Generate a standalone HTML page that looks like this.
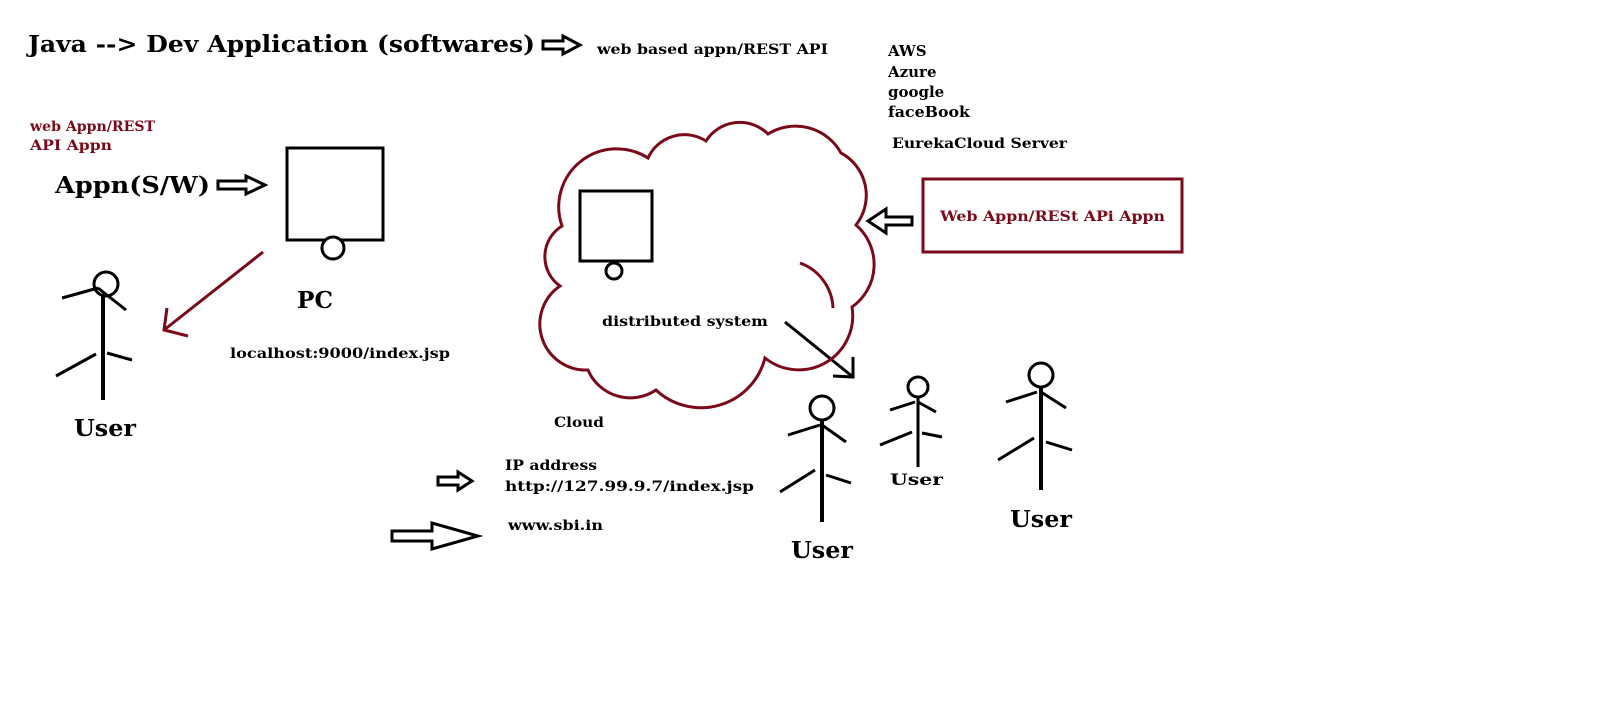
<!DOCTYPE html>
<html><head><meta charset="utf-8"><style>html,body{margin:0;padding:0;background:#fff}svg{display:block}</style></head>
<body>
<svg width="1600" height="720" viewBox="0 0 1600 720" xmlns="http://www.w3.org/2000/svg" font-family="'DejaVu Serif','Liberation Serif',serif" font-weight="bold">
<rect width="1600" height="720" fill="#fff"/>
<g fill="#000">
<text x="28" y="52" font-size="23" textLength="507" lengthAdjust="spacingAndGlyphs">Java --&gt; Dev Application (softwares)</text>
<text x="597" y="54" font-size="14" textLength="231" lengthAdjust="spacingAndGlyphs">web based appn/REST API</text>
<text x="888" y="56" font-size="15">AWS</text>
<text x="888" y="77" font-size="15">Azure</text>
<text x="888" y="97" font-size="15">google</text>
<text x="888" y="117" font-size="15" textLength="82" lengthAdjust="spacingAndGlyphs">faceBook</text>
<text x="892" y="148" font-size="14" textLength="175" lengthAdjust="spacingAndGlyphs">EurekaCloud Server</text>
<text x="55" y="193" font-size="23" textLength="155" lengthAdjust="spacingAndGlyphs">Appn(S/W)</text>
<text x="297" y="308" font-size="23" textLength="36" lengthAdjust="spacingAndGlyphs">PC</text>
<text x="230" y="358" font-size="14" textLength="220" lengthAdjust="spacingAndGlyphs">localhost:9000/index.jsp</text>
<text x="74" y="436" font-size="23" textLength="62" lengthAdjust="spacingAndGlyphs">User</text>
<text x="602" y="326" font-size="14" textLength="166" lengthAdjust="spacingAndGlyphs">distributed system</text>
<text x="554" y="427" font-size="14" textLength="50" lengthAdjust="spacingAndGlyphs">Cloud</text>
<text x="505" y="470" font-size="14" textLength="92" lengthAdjust="spacingAndGlyphs">IP address</text>
<text x="505" y="491" font-size="14" textLength="249" lengthAdjust="spacingAndGlyphs">http://127.99.9.7/index.jsp</text>
<text x="508" y="530" font-size="14" textLength="95" lengthAdjust="spacingAndGlyphs">www.sbi.in</text>
<text x="791" y="558" font-size="23" textLength="62" lengthAdjust="spacingAndGlyphs">User</text>
<text x="890" y="485" font-size="16" textLength="53" lengthAdjust="spacingAndGlyphs">User</text>
<text x="1010" y="527" font-size="23" textLength="62" lengthAdjust="spacingAndGlyphs">User</text>
</g>
<g fill="#7a0a1a">
<text x="30" y="131" font-size="14" textLength="125" lengthAdjust="spacingAndGlyphs">web Appn/REST</text>
<text x="30" y="150" font-size="14" textLength="82" lengthAdjust="spacingAndGlyphs">API Appn</text>
<text x="940" y="221" font-size="14" textLength="225" lengthAdjust="spacingAndGlyphs">Web Appn/RESt APi Appn</text>
</g>
<g fill="none" stroke="#000" stroke-width="3">
<polygon points="543,41 563,41 563,36 580,45 563,54 563,49 543,49"/>
<polygon points="218,181 246,181 246,176 265,185 246,194 246,189 218,189"/>
<polygon points="912,217 886,217 886,209 868,221 886,233 886,225 912,225"/>
<polygon points="438,477 458,477 458,472 472,481 458,490 458,485 438,485"/>
<polygon points="392,531 432,531 432,523 478,536 432,549 432,541 392,541"/>
<rect x="287" y="148" width="96" height="92"/>
<circle cx="333" cy="248" r="11" fill="#fff"/>
<rect x="580" y="191" width="72" height="70"/>
<circle cx="614" cy="271" r="8"/>
<circle cx="106" cy="284" r="12"/>
<line x1="103" y1="296" x2="103" y2="400" stroke-width="4"/>
<line x1="62" y1="298" x2="98" y2="288"/><line x1="98" y1="288" x2="126" y2="310"/>
<line x1="56" y1="376" x2="96" y2="354"/><line x1="107" y1="353" x2="132" y2="360"/>
<circle cx="822" cy="408" r="12"/>
<line x1="822" y1="420" x2="822" y2="522" stroke-width="4"/>
<line x1="788" y1="435" x2="820" y2="425"/><line x1="822" y1="425" x2="846" y2="442"/>
<line x1="780" y1="492" x2="815" y2="470"/><line x1="826" y1="475" x2="851" y2="483"/>
<circle cx="918" cy="387" r="10"/>
<line x1="918" y1="397" x2="918" y2="467" stroke-width="3"/>
<line x1="890" y1="410" x2="915" y2="402"/><line x1="918" y1="402" x2="936" y2="412"/>
<line x1="880" y1="445" x2="912" y2="432"/><line x1="922" y1="433" x2="942" y2="437"/>
<circle cx="1041" cy="375" r="12"/>
<line x1="1041" y1="387" x2="1041" y2="490" stroke-width="4"/>
<line x1="1006" y1="402" x2="1037" y2="392"/><line x1="1041" y1="392" x2="1066" y2="408"/>
<line x1="998" y1="460" x2="1034" y2="438"/><line x1="1046" y1="442" x2="1072" y2="450"/>
<line x1="785" y1="322" x2="853" y2="377"/>
<polyline points="853,357 853,377 833,376"/>
</g>
<g fill="none" stroke="#7a0a1a" stroke-width="3">
<rect x="923" y="179" width="259" height="73"/>
<line x1="263" y1="252" x2="164" y2="330"/>
<polyline points="167,308 164,330 188,336"/>
<path d="M562,226 A58,58 0 0 1 648,158 A40,40 0 0 1 706,141 A40,40 0 0 1 768,134 A52,52 0 0 1 841,153 A48,48 0 0 1 856,225 A52,52 0 0 1 852,307 A54,54 0 0 1 765,358 A66,66 0 0 1 656,390 A46,46 0 0 1 588,370 A46,46 0 0 1 560,286 A36,36 0 0 1 562,226 Z"/>
<path d="M800,263 A50,50 0 0 1 833,308"/>
</g>
</svg>
</body></html>
